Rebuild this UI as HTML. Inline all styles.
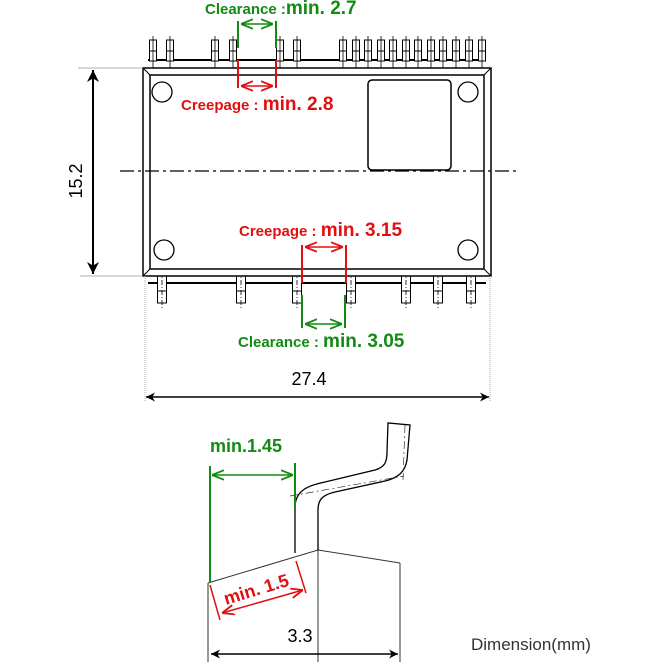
<!DOCTYPE html>
<html><head><style>body{margin:0;background:#fff}svg{display:block}</style></head><body>
<svg width="670" height="670" viewBox="0 0 670 670" xmlns="http://www.w3.org/2000/svg" font-family="Liberation Sans, Arial, sans-serif">
<defs>
<marker id="a" viewBox="0 0 10 10" refX="10" refY="5" markerWidth="8" markerHeight="8" orient="auto-start-reverse"><path d="M0,1 L10,5 L0,9" fill="none" stroke="context-stroke" stroke-width="1.5"/></marker>
<marker id="b" viewBox="0 0 10 10" refX="10" refY="5" markerWidth="6" markerHeight="6" orient="auto-start-reverse"><path d="M0,0 L10,5 L0,10 L3,5z" fill="#000"/></marker>
<g id="pt"><rect x="-3.5" y="40" width="7" height="11" fill="#fff" stroke="#000"/><rect x="-3.5" y="51" width="7" height="10" fill="#fff" stroke="#000"/><line x1="0" y1="36" x2="0" y2="74" stroke="#000" stroke-width="0.8"/></g>
<g id="pb"><rect x="-4.5" y="276" width="9" height="15" fill="#fff" stroke="#000"/><rect x="-4.5" y="291" width="9" height="12" fill="#fff" stroke="#000"/><line x1="0" y1="270" x2="0" y2="308" stroke="#000" stroke-width="0.8" stroke-dasharray="5,2,1,2"/></g>
</defs>
<line x1="148" y1="60" x2="486" y2="60" stroke="#000" stroke-width="2"/>
<g>
<use href="#pt" x="153"/><use href="#pt" x="170"/><use href="#pt" x="215"/><use href="#pt" x="233"/><use href="#pt" x="280"/><use href="#pt" x="297"/>
<use href="#pt" x="343"/><use href="#pt" x="356"/><use href="#pt" x="368"/><use href="#pt" x="381"/><use href="#pt" x="393"/><use href="#pt" x="406"/><use href="#pt" x="418"/><use href="#pt" x="431"/><use href="#pt" x="443"/><use href="#pt" x="456"/><use href="#pt" x="469"/><use href="#pt" x="482"/>
</g>
<line x1="148" y1="283" x2="486" y2="283" stroke="#000" stroke-width="2"/>
<use href="#pb" x="162"/><use href="#pb" x="241"/><use href="#pb" x="297"/><use href="#pb" x="351"/><use href="#pb" x="406"/><use href="#pb" x="438"/><use href="#pb" x="471"/>
<rect x="143" y="68" width="348" height="208" fill="#fff" stroke="#000" stroke-width="1.5"/>
<rect x="150" y="75" width="334" height="194" fill="none" stroke="#000" stroke-width="1.5"/>
<path d="M143,68 L150,75 M491,68 L484,75 M143,276 L150,269 M491,276 L484,269" stroke="#000"/>
<rect x="368" y="80" width="83" height="90" rx="4" fill="none" stroke="#000" stroke-width="1.5"/>
<g fill="none" stroke="#000" stroke-width="1.3"><circle cx="162" cy="92" r="10"/><circle cx="468" cy="92" r="10"/><circle cx="164" cy="250" r="10"/><circle cx="468" cy="250" r="10"/></g>
<line x1="120" y1="171" x2="516" y2="171" stroke="#000" stroke-width="1.2" stroke-dasharray="14,4,3,4"/>
<path d="M78,68 H143 M80,276 H143" stroke="#999" stroke-width="0.8"/>
<line x1="93" y1="70" x2="93" y2="274" stroke="#000" stroke-width="2" marker-start="url(#b)" marker-end="url(#b)"/>
<text x="0" y="0" font-size="18" transform="translate(82,181) rotate(-90)" text-anchor="middle">15.2</text>
<path d="M145,276 V402 M490,276 V402" stroke="#aaa" stroke-width="1" stroke-dasharray="1,1"/>
<line x1="146" y1="397" x2="489" y2="397" stroke="#000" stroke-width="1.5" marker-start="url(#b)" marker-end="url(#b)"/>
<text x="309" y="385" font-size="18" text-anchor="middle">27.4</text>
<g stroke="#138a13" stroke-width="2" fill="none"><path d="M238,21 V48 M276,21 V48"/><line x1="241" y1="24" x2="273" y2="24" stroke-width="1.5" marker-start="url(#a)" marker-end="url(#a)"/></g>
<text x="205" y="14" fill="#138a13" font-weight="bold" font-size="15">Clearance :<tspan font-size="19">min. 2.7</tspan></text>
<g stroke="#e01010" stroke-width="2" fill="none"><path d="M238,60 V88 M276,60 V88"/><line x1="241" y1="86" x2="273" y2="86" stroke-width="1.5" marker-start="url(#a)" marker-end="url(#a)"/></g>
<text x="181" y="110" fill="#e01010" font-weight="bold" font-size="15">Creepage : <tspan font-size="19">min. 2.8</tspan></text>
<g stroke="#e01010" stroke-width="2" fill="none"><path d="M302,245 V283 M346,245 V283"/><line x1="305" y1="247" x2="343" y2="247" stroke-width="1.5" marker-start="url(#a)" marker-end="url(#a)"/></g>
<text x="239" y="236" fill="#e01010" font-weight="bold" font-size="15">Creepage : <tspan font-size="19">min. 3.15</tspan></text>
<g stroke="#138a13" stroke-width="2" fill="none"><path d="M302,295 V328 M345,295 V328"/><line x1="305" y1="324" x2="342" y2="324" stroke-width="1.5" marker-start="url(#a)" marker-end="url(#a)"/></g>
<text x="238" y="347" fill="#138a13" font-weight="bold" font-size="15">Clearance : <tspan font-size="19">min. 3.05</tspan></text>
<g stroke="#333" stroke-width="1" fill="none">
<path d="M208,583 L318,550 L400,563"/>
<path d="M208,583 V662 M318,550 V662 M400,563 V662"/>
</g>
<g stroke="#000" stroke-width="1.3" fill="none">
<path d="M295,553 V508 C295,492 305,486 325,482 L375,470 C385,467 387,462 387,452 L388,423 L410,425 L407,460 C405,472 398,478 385,481 L335,492 C322,495 318,500 318,510 V550"/>
</g>
<path d="M290,496 L404,476 M405,425 L403,480" stroke="#333" stroke-width="0.7" stroke-dasharray="8,3,2,3" fill="none"/>
<g stroke="#138a13" stroke-width="2" fill="none"><path d="M210,466 V583 M295,463 V508"/><line x1="212" y1="475" x2="293" y2="475" stroke-width="1.5" marker-start="url(#a)" marker-end="url(#a)"/></g>
<text x="210" y="452" fill="#138a13" font-weight="bold" font-size="18">min.1.45</text>
<g stroke="#e01010" stroke-width="1.5" fill="none"><path d="M210,585 L220,620 M296,561 L306,593"/><line x1="222" y1="613" x2="303" y2="590" marker-start="url(#a)" marker-end="url(#a)"/></g>
<text x="0" y="0" fill="#e01010" font-weight="bold" font-size="18" transform="translate(226,605) rotate(-17)">min. 1.5</text>
<line x1="211" y1="654" x2="398" y2="654" stroke="#000" stroke-width="1.5" marker-start="url(#b)" marker-end="url(#b)"/>
<text x="300" y="642" font-size="18" text-anchor="middle">3.3</text>
<text x="471" y="650" font-size="17" fill="#333">Dimension(mm)</text>
</svg>
</body></html>
